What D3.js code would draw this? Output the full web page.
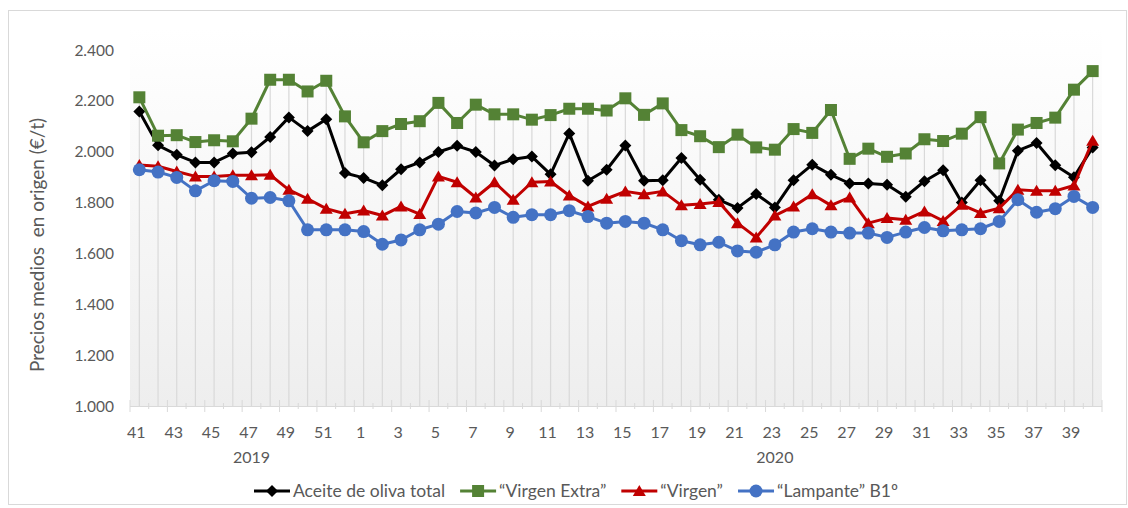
<!DOCTYPE html>
<html><head><meta charset="utf-8">
<script src="https://cdn.jsdelivr.net/npm/d3@7"></script>
<style>
html,body{margin:0;padding:0;background:#fff;}
svg{display:block;font-family:Lato, "Open Sans", sans-serif;}
</style></head>
<body>
<svg id="chart" width="1128" height="508"></svg>
<script>
// ---- data ----
const weeks = [41,42,43,44,45,46,47,48,49,50,51,52,
  1,2,3,4,5,6,7,8,9,10,11,12,13,14,15,16,17,18,19,20,21,22,23,24,25,26,27,28,29,30,31,32,33,34,35,36,37,38,39,40];
const yearLabels = ["2019","2020"];
const yearLabelWeekIndex = [6,34];
const yTicks = [1000,1200,1400,1600,1800,2000,2200,2400];
const seriesNames = ["Aceite de oliva total","\u201CVirgen Extra\u201D","\u201CVirgen\u201D","\u201CLampante\u201D B1\u00BA"];
const total = [2158,2025,1988,1958,1958,1993,1998,2058,2135,2081,2128,1916,1897,1868,1931,1958,1999,2023,1999,1946,1970,1981,1911,2072,1886,1929,2024,1886,1888,1975,1890,1811,1779,1834,1781,1888,1949,1909,1875,1875,1870,1823,1884,1927,1800,1888,1807,2004,2034,1947,1900,2017];
const extra = [2214,2063,2065,2038,2045,2041,2130,2283,2283,2237,2279,2139,2037,2081,2109,2120,2192,2113,2185,2147,2147,2126,2144,2169,2169,2162,2210,2145,2190,2085,2061,2018,2067,2017,2008,2089,2074,2164,1972,2012,1980,1993,2049,2042,2071,2136,1954,2087,2113,2134,2244,2317];
const virgen = [1948,1943,1922,1903,1903,1907,1907,1909,1850,1815,1776,1756,1769,1749,1785,1755,1903,1880,1820,1880,1811,1880,1883,1828,1785,1815,1844,1833,1844,1789,1794,1802,1719,1663,1749,1785,1833,1789,1820,1719,1739,1732,1765,1728,1791,1759,1778,1850,1846,1846,1867,2043];
const lampante = [1929,1920,1899,1846,1886,1883,1817,1820,1807,1693,1693,1693,1686,1636,1653,1693,1715,1765,1759,1781,1742,1752,1752,1768,1745,1719,1726,1719,1693,1650,1634,1644,1610,1605,1634,1684,1697,1684,1680,1680,1663,1684,1702,1689,1693,1697,1726,1811,1762,1776,1824,1781];

const colors = ["#000000","#548235","#C00000","#4472C4"];
const markers = ["diamond","square","triangle","circle"];
const allSeries = [total, extra, virgen, lampante];

// ---- layout ----
const svg = d3.select("#chart");
const plotL = 130, plotR = 1102, plotT = 50, plotB = 406;
const idx = d3.range(weeks.length);
const x = d3.scaleBand().domain(idx).range([plotL, plotR]).padding(0);
const cx = i => x(i) + x.bandwidth()/2;
const y = d3.scaleLinear().domain([1000,2400]).range([plotB, plotT]);
const textCol = "#595959";

// chart border
svg.append("rect").attr("x",8.5).attr("y",10.5).attr("width",1118).attr("height",494)
  .attr("fill","#fff").attr("stroke","#d9d9d9").attr("stroke-width",1);

// plot background gradient
const defs = svg.append("defs");
const grad = defs.append("linearGradient").attr("id","bg").attr("x1",0).attr("y1",0).attr("x2",0).attr("y2",1);
grad.append("stop").attr("offset","0%").attr("stop-color","#ffffff");
grad.append("stop").attr("offset","100%").attr("stop-color","#eeeeee");
svg.append("rect").attr("x",plotL).attr("y",28).attr("width",plotR-plotL).attr("height",plotB-28)
  .attr("fill","url(#bg)");

// y axis labels
svg.append("g").selectAll("text").data(yTicks).join("text")
  .attr("x",114).attr("y",d=>y(d)).attr("dy","0.36em")
  .attr("text-anchor","end").attr("fill",textCol).style("font-size","15.5px")
  .text(d=>d3.format(",")(d).replace(/,/g,"."));

// y title
svg.append("text").attr("transform","translate(44,245) rotate(-90)")
  .attr("text-anchor","middle").attr("fill",textCol).style("font-size","19px")
  .style("white-space","pre").attr("xml:space","preserve")
  .text("Precios medios  en origen (\u20AC/t)");

// drop lines
svg.append("g").selectAll("line").data(idx).join("line")
  .attr("x1",i=>cx(i)).attr("x2",i=>cx(i))
  .attr("y1",i=>y(d3.max(allSeries, s=>s[i]))).attr("y2",plotB)
  .attr("stroke","#d9d9d9").attr("stroke-width",1.2);

// x axis line & ticks
const axG = svg.append("g");
axG.append("line").attr("x1",plotL).attr("x2",plotR).attr("y1",plotB+0.5).attr("y2",plotB+0.5)
  .attr("stroke","#d9d9d9").attr("stroke-width",1);
const bounds = d3.range(weeks.length+1);
axG.selectAll("line.tk").data(bounds).join("line").attr("class","tk")
  .attr("x1",k=>plotL + k*x.bandwidth()).attr("x2",k=>plotL + k*x.bandwidth())
  .attr("y1",k=>k%2===0? plotB-6 : plotB-3).attr("y2",k=>k%2===0? plotB+6 : plotB+3)
  .attr("stroke","#d9d9d9").attr("stroke-width",1);
axG.selectAll("text.wk").data(idx.filter(i=>i%2===0)).join("text").attr("class","wk")
  .attr("x",i=>cx(i)-3).attr("y",438).attr("text-anchor","middle")
  .attr("fill",textCol).style("font-size","16px").text(i=>weeks[i]);
axG.selectAll("text.yr").data(yearLabels).join("text").attr("class","yr")
  .attr("x",(d,j)=>cx(yearLabelWeekIndex[j])).attr("y",463).attr("text-anchor","middle")
  .attr("fill",textCol).style("font-size","16px").text(d=>d);

// marker drawing
function drawMarker(g, type, color, px, py){
  if(type==="diamond"){
    const r=6;
    g.append("path").attr("d",`M${px},${py-r}L${px+r},${py}L${px},${py+r}L${px-r},${py}Z`).attr("fill",color);
  } else if(type==="square"){
    const h=6;
    g.append("rect").attr("x",px-h).attr("y",py-h).attr("width",2*h).attr("height",2*h).attr("fill",color);
  } else if(type==="triangle"){
    const w=6.5, hh=6;
    g.append("path").attr("d",`M${px},${py-hh}L${px+w},${py+hh-1}L${px-w},${py+hh-1}Z`).attr("fill",color);
  } else {
    g.append("circle").attr("cx",px).attr("cy",py).attr("r",6.5).attr("fill",color);
  }
}

// series
const line = d3.line().x((d,i)=>cx(i)).y(d=>y(d));
allSeries.forEach((s,k)=>{
  const g = svg.append("g");
  g.append("path").datum(s).attr("d",line).attr("fill","none")
    .attr("stroke",colors[k]).attr("stroke-width",3).attr("stroke-linejoin","round");
  s.forEach((v,i)=>drawMarker(g, markers[k], colors[k], cx(i), y(v)));
});

// legend
const lg = svg.append("g");
let lx = 254;
const ly = 491;
seriesNames.forEach((name,k)=>{
  lg.append("line").attr("x1",lx).attr("x2",lx+36).attr("y1",ly).attr("y2",ly)
    .attr("stroke",colors[k]).attr("stroke-width",3);
  drawMarker(lg, markers[k], colors[k], lx+18, ly);
  const t = lg.append("text").attr("x",lx+39).attr("y",ly).attr("dy","0.35em")
    .attr("fill",textCol).style("font-size","17.5px").text(name);
  lx = lx + 39 + t.node().getComputedTextLength() + 15;
});
</script>
</body></html>
